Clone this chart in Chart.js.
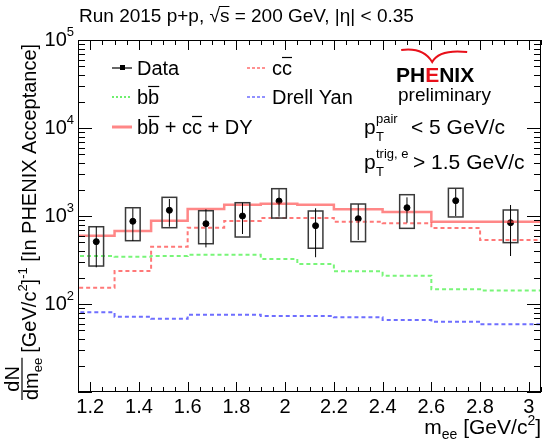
<!DOCTYPE html>
<html>
<head>
<meta charset="utf-8">
<script src="https://cdn.jsdelivr.net/npm/chart.js@4.4.0/dist/chart.umd.min.js"></script>
<style>
  html, body { margin: 0; padding: 0; background: #fff; }
  #wrap { width: 546px; height: 441px; }
</style>
</head>
<body>
<div id="wrap"><canvas id="mee"></canvas></div>
<script>
// bins of the model curves (GeV/c^2)
const binEdges = [1.15, 1.3, 1.45, 1.6, 1.75, 1.9, 2.05, 2.2, 2.4, 2.6, 2.8, 2.95, 3.05];
const sumModel = [582, 597, 676, 885, 1202, 1344, 1379, 1344, 1191, 1110, 861, 861];
const ccbar = [91, 153, 237, 448, 736, 878, 948, 948, 861, 826, 731, 534];
const bbbar = [400, 351, 345, 351, 362, 362, 325, 285, 235, 210, 147, 142];
const drellYan = [91, 80.5, 71.7, 68.1, 75.5, 75.5, 73.1, 73.1, 70.6, 65.8, 62.9, 58.8];

// data points
const massPoints = [1.225, 1.375, 1.525, 1.675, 1.825, 1.975, 2.125, 2.3, 2.5, 2.7, 2.925];
const yieldVals = [511, 871, 1161, 817, 1000, 1479, 776, 931, 1241, 1493, 839];
const statLow = [261, 520, 755, 440, 624, 982, 340, 534, 839, 1000, 351];
const statHigh = [755, 1223, 1560, 1191, 1416, 2011, 1223, 1358, 1630, 2028, 1334];
const sysLow = [270, 524, 736, 484, 577, 948, 430, 511, 724, 975, 498];
const sysHigh = [755, 1241, 1630, 1148, 1416, 2043, 1140, 1369, 1746, 2065, 1170];
const sysHalfWidth = 0.03;

// axes
const xTicks = [1.2, 1.4, 1.6, 1.8, 2.0, 2.2, 2.4, 2.6, 2.8, 3.0];
const yTicks = [100, 1000, 10000, 100000];

const FONT = "'Liberation Sans', Arial, sans-serif";

function stepPoints(vals) {
  const pts = vals.map((v, i) => ({ x: binEdges[i], y: v }));
  pts.push({ x: binEdges[binEdges.length - 1], y: vals[vals.length - 1] });
  return pts;
}

// draw a row of text pieces, each with its own size / vertical shift
function rich(ctx, x, y, parts) {
  let cx = x;
  parts.forEach(p => {
    ctx.font = (p.bold ? 'bold ' : '') + p.size + 'px ' + FONT;
    ctx.fillStyle = p.color || '#000';
    ctx.fillText(p.t, cx, y + (p.dy || 0));
    cx += ctx.measureText(p.t).width + (p.gap || 0);
  });
  return cx;
}

const rootStyle = {
  id: 'rootStyle',
  afterDatasetsDraw(chart) {
    const ctx = chart.ctx;
    const xs = chart.scales.x, ys = chart.scales.y;
    ctx.save();
    // sys boxes + stat bars
    massPoints.forEach((m, i) => {
      const x0 = xs.getPixelForValue(m - sysHalfWidth);
      const x1 = xs.getPixelForValue(m + sysHalfWidth);
      const yTop = ys.getPixelForValue(sysHigh[i]);
      const yBot = ys.getPixelForValue(sysLow[i]);
      ctx.strokeStyle = '#3a3a3a';
      ctx.lineWidth = 1.5;
      ctx.strokeRect(x0, yTop, x1 - x0, yBot - yTop);
      const xc = xs.getPixelForValue(m);
      ctx.strokeStyle = '#000';
      ctx.lineWidth = 1;
      ctx.beginPath();
      ctx.moveTo(xc, ys.getPixelForValue(statHigh[i]));
      ctx.lineTo(xc, ys.getPixelForValue(statLow[i]));
      ctx.stroke();
    });
    ctx.restore();
  },
  afterDraw(chart) {
    const ctx = chart.ctx;
    const a = chart.chartArea;
    const xs = chart.scales.x, ys = chart.scales.y;
    ctx.save();
    ctx.strokeStyle = '#000';
    ctx.lineWidth = 1;
    ctx.strokeRect(a.left + 0.5, a.top + 0.5, a.right - a.left - 1, a.bottom - a.top - 1);

    // x ticks, inward on bottom and top
    ctx.beginPath();
    for (let k = 0; k <= 38; k++) {
      const v = 1.15 + k * 0.05;
      const px = Math.round(xs.getPixelForValue(v)) + 0.5;
      const major = xTicks.some(t => Math.abs(t - v) < 1e-6);
      const len = major ? 10 : 5;
      ctx.moveTo(px, a.bottom); ctx.lineTo(px, a.bottom - len);
      ctx.moveTo(px, a.top); ctx.lineTo(px, a.top + len);
    }
    // y ticks, log minor
    for (let e = 1; e <= 4; e++) {
      for (let k = 1; k <= 10; k++) {
        const v = k * Math.pow(10, e);
        const py = Math.round(ys.getPixelForValue(v)) + 0.5;
        const len = (k === 1 || k === 10) ? 14 : 7;
        ctx.moveTo(a.left, py); ctx.lineTo(a.left + len, py);
        ctx.moveTo(a.right, py); ctx.lineTo(a.right - len, py);
      }
    }
    ctx.stroke();

    // y tick labels 10^n
    ctx.textBaseline = 'alphabetic';
    yTicks.forEach(v => {
      const py = ys.getPixelForValue(v);
      const ex = String(Math.round(Math.log10(v)));
      ctx.font = '20px ' + FONT;
      const w1 = ctx.measureText('10').width;
      ctx.font = '13px ' + FONT;
      const w2 = ctx.measureText(ex).width;
      rich(ctx, 74 - w1 - w2, py + 6, [{ t: '10', size: 20 }, { t: ex, size: 13, dy: -10 }]);
    });

    // title
    const tEnd = rich(ctx, 79, 22, [{ t: 'Run 2015 p+p, ', size: 19 }, { t: '\u221A', size: 19 }]);
    ctx.font = '19px ' + FONT;
    const sW = ctx.measureText('s').width;
    rich(ctx, tEnd, 22, [{ t: 's = 200 GeV, |\u03B7| < 0.35', size: 19 }]);
    ctx.beginPath();
    ctx.moveTo(tEnd - 1, 6.5); ctx.lineTo(tEnd + sW, 6.5);
    ctx.stroke();

    // legend
    const legend = [
      { x: 112, y: 68, text: [{ t: 'Data', size: 20 }], kind: 'data' },
      { x: 112, y: 97, text: [{ t: 'bb', size: 20 }], bar: 'b', color: 'rgb(110,240,110)', dash: [2, 2], w: 2 },
      { x: 112, y: 127, text: [{ t: 'bb + cc + DY', size: 20 }], bar: 'sum', color: 'rgba(255,70,70,0.65)', dash: [], w: 3 },
      { x: 247, y: 68, text: [{ t: 'cc', size: 20 }], bar: 'c', color: 'rgb(255,110,110)', dash: [3, 2], w: 1.5 },
      { x: 247, y: 97, text: [{ t: 'Drell Yan', size: 20 }], color: 'rgb(110,110,255)', dash: [3, 2], w: 1.5 }
    ];
    legend.forEach(l => {
      ctx.save();
      if (l.kind === 'data') {
        ctx.strokeStyle = '#000'; ctx.lineWidth = 1.2;
        ctx.beginPath(); ctx.moveTo(l.x, l.y); ctx.lineTo(l.x + 20, l.y); ctx.stroke();
        ctx.fillStyle = '#000'; ctx.fillRect(l.x + 8, l.y - 3, 5, 5);
      } else {
        ctx.strokeStyle = l.color; ctx.lineWidth = l.w; ctx.setLineDash(l.dash);
        ctx.beginPath(); ctx.moveTo(l.x, l.y); ctx.lineTo(l.x + 20, l.y); ctx.stroke();
      }
      ctx.restore();
      const tx = l.x + 25;
      rich(ctx, tx, l.y + 7, l.text);
      // overbars for anti-quarks
      ctx.font = '20px ' + FONT;
      const bars = [];
      if (l.bar === 'b') bars.push(['b', 'b']);
      if (l.bar === 'c') bars.push(['c', 'c']);
      if (l.bar === 'sum') { bars.push(['b', 'b']); bars.push(['bb + c', 'c']); }
      bars.forEach(([pre, ch]) => {
        const x0 = tx + ctx.measureText(pre).width;
        const w = ctx.measureText(ch).width;
        ctx.beginPath(); ctx.lineWidth = 1.2; ctx.strokeStyle = '#000';
        ctx.moveTo(x0, l.y - 10.5); ctx.lineTo(x0 + w, l.y - 10.5); ctx.stroke();
      });
    });

    // PHENIX logo
    const pEnd = rich(ctx, 396, 82, [{ t: 'PH', size: 21, bold: true }]);
    ctx.save();
    ctx.strokeStyle = '#e8101a'; ctx.fillStyle = '#e8101a'; ctx.lineWidth = 2;
    ctx.beginPath();
    ctx.moveTo(pEnd - 24, 50); ctx.quadraticCurveTo(pEnd - 2, 47, pEnd + 7, 62);
    ctx.quadraticCurveTo(pEnd + 14, 49, pEnd + 42, 52);
    ctx.stroke();
    ctx.restore();
    const eEnd = rich(ctx, pEnd, 82, [{ t: 'E', size: 21, bold: true, color: '#e8101a' }]);
    rich(ctx, eEnd, 82, [{ t: 'NIX', size: 21, bold: true }]);
    rich(ctx, 398, 101, [{ t: 'preliminary', size: 19 }]);

    // cut annotations
    rich(ctx, 364, 134, [{ t: 'p', size: 21 }]);
    rich(ctx, 376, 141, [{ t: 'T', size: 13 }]);
    rich(ctx, 376, 123, [{ t: 'pair', size: 13 }]);
    rich(ctx, 411, 134, [{ t: '< 5 GeV/c', size: 21 }]);
    rich(ctx, 364, 169, [{ t: 'p', size: 21 }]);
    rich(ctx, 376, 176, [{ t: 'T', size: 13 }]);
    rich(ctx, 376, 158, [{ t: 'trig, e', size: 13 }]);
    rich(ctx, 413, 169, [{ t: '> 1.5 GeV/c', size: 21 }]);

    // x title
    const XS = 21, XSS = 14;
    ctx.font = XS + 'px ' + FONT;
    let w = ctx.measureText('m [GeV/c]').width;
    ctx.font = XSS + 'px ' + FONT;
    w += ctx.measureText('ee2').width;
    rich(ctx, 541 - w, 434, [
      { t: 'm', size: XS }, { t: 'ee', size: XSS, dy: 5 }, { t: ' [GeV/c', size: XS },
      { t: '2', size: XSS, dy: -9 }, { t: ']', size: XS }
    ]);

    // y title, rotated
    ctx.save();
    ctx.translate(22, 0);
    ctx.rotate(-Math.PI / 2);
    ctx.textAlign = 'left';
    ctx.font = '20px ' + FONT;
    const dnW = ctx.measureText('dN').width;
    const dmW = ctx.measureText('dm').width;
    ctx.font = '13px ' + FONT;
    const eeW = ctx.measureText('ee').width;
    const fracW = Math.max(dnW, dmW + eeW);
    const fx = -400;
    rich(ctx, fx + (fracW - dnW) / 2, -3, [{ t: 'dN', size: 20 }]);
    rich(ctx, fx + (fracW - dmW - eeW) / 2, 16, [{ t: 'dm', size: 20 }, { t: 'ee', size: 13, dy: 4 }]);
    ctx.strokeStyle = '#000'; ctx.lineWidth = 1.2;
    ctx.beginPath(); ctx.moveTo(fx, 0); ctx.lineTo(fx + fracW, 0); ctx.stroke();
    rich(ctx, fx + fracW + 5, 14, [
      { t: '[GeV/c', size: 20 }, { t: '2', size: 13, dy: -9 }, { t: ']', size: 20 },
      { t: '-1', size: 13, dy: -9 }, { t: ' [In PHENIX Acceptance]', size: 20 }
    ]);
    ctx.restore();

    ctx.restore();
  }
};

const stepStyle = (color, width, dash) => ({
  borderColor: color, borderWidth: width, borderDash: dash,
  stepped: 'after', pointRadius: 0, fill: false, showLine: true
});

new Chart(document.getElementById('mee'), {
  type: 'scatter',
  data: {
    datasets: [
      Object.assign({ label: 'sum', data: stepPoints(sumModel) }, stepStyle('rgba(255,70,70,0.65)', 2.5, [])),
      Object.assign({ label: 'ccbar', data: stepPoints(ccbar) }, stepStyle('rgb(255,120,120)', 2, [4, 3])),
      Object.assign({ label: 'bbbar', data: stepPoints(bbbar) }, stepStyle('rgb(120,245,120)', 2, [4, 3])),
      Object.assign({ label: 'DY', data: stepPoints(drellYan) }, stepStyle('rgb(110,110,255)', 2, [4, 3])),
      {
        label: 'Data',
        data: massPoints.map((m, i) => ({ x: m, y: yieldVals[i] })),
        pointRadius: 3, pointBackgroundColor: '#000', pointBorderColor: '#000',
        showLine: false
      }
    ]
  },
  options: {
    responsive: true,
    maintainAspectRatio: false,
    animation: false,
    layout: { padding: { top: 40, right: 3, left: 0, bottom: 0 } },
    plugins: { legend: { display: false }, tooltip: { enabled: false } },
    scales: {
      x: {
        type: 'linear', min: 1.15, max: 3.05,
        grid: { display: false, drawTicks: false },
        border: { display: false },
        afterBuildTicks: s => { s.ticks = xTicks.map(v => ({ value: v })); },
        afterFit: s => { s.height = 49; },
        ticks: {
          autoSkip: false, maxRotation: 0, padding: 3, color: '#000',
          font: { family: FONT, size: 20 },
          callback: v => String(Math.round(v * 10) / 10)
        }
      },
      y: {
        type: 'logarithmic', min: 10, max: 100000,
        grid: { display: false, drawTicks: false },
        border: { display: false },
        ticks: { display: false },
        afterFit: s => { s.width = 78; }
      }
    }
  },
  plugins: [rootStyle]
});
</script>
</body>
</html>
